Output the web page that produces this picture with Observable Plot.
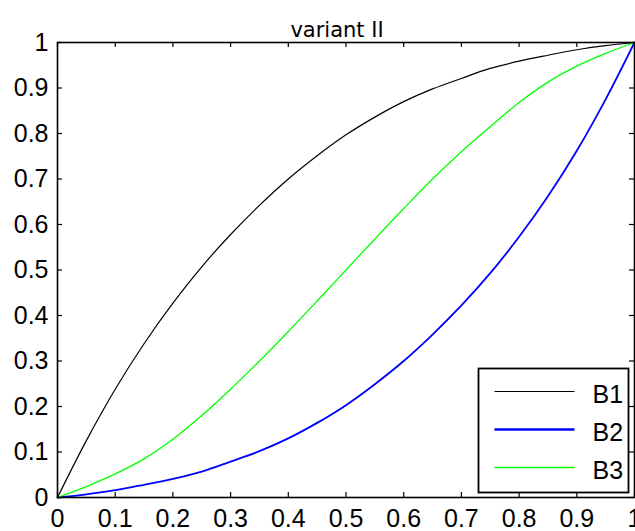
<!DOCTYPE html>
<html>
<head>
<meta charset="utf-8">
<script src="https://cdn.jsdelivr.net/npm/d3@7"></script>
<script src="https://cdn.jsdelivr.net/npm/@observablehq/plot@0.6"></script>
<style>
  html, body { margin: 0; padding: 0; background: #fff; }
  svg { display: block; }
</style>
</head>
<body>
<div id="chart"></div>
<script>
const titleText = "variant II";
const xs = [0, 0.05, 0.1, 0.15, 0.2, 0.25, 0.3, 0.35, 0.4, 0.45, 0.5, 0.55, 0.6, 0.65, 0.7, 0.75, 0.8, 0.85, 0.9, 0.95, 1];
const b1 = [0, 0.125, 0.238, 0.338, 0.427, 0.507, 0.578, 0.642, 0.700, 0.751, 0.797, 0.836, 0.870, 0.898, 0.921, 0.943, 0.959, 0.972, 0.984, 0.993, 1];
const b2 = [0, 0.007, 0.016, 0.028, 0.041, 0.057, 0.079, 0.102, 0.130, 0.164, 0.203, 0.249, 0.300, 0.358, 0.422, 0.493, 0.573, 0.662, 0.762, 0.875, 1];
const b3 = [0, 0.024, 0.052, 0.085, 0.128, 0.180, 0.238, 0.300, 0.365, 0.432, 0.500, 0.568, 0.635, 0.700, 0.760, 0.815, 0.868, 0.913, 0.948, 0.976, 1];
const seriesNames = ["B1", "B2", "B3"];
const seriesColors = ["#000000", "#0000ff", "#00ff00"];
const seriesWidths = [1.2, 1.8, 1.3];
const xTicks = [0, 0.1, 0.2, 0.3, 0.4, 0.5, 0.6, 0.7, 0.8, 0.9, 1];
const yTicks = [0, 0.1, 0.2, 0.3, 0.4, 0.5, 0.6, 0.7, 0.8, 0.9, 1];

const seriesValues = [b1, b2, b3];
const rows = [];
seriesNames.forEach((name, i) => {
  xs.forEach((x, j) => rows.push({series: name, x, y: seriesValues[i][j]}));
});

const W = 635, H = 531;
const mL = 57, mR = 1, mT = 42, mB = 34;
const fw = W - mL - mR, fh = H - mT - mB;
const tickLen = 5;
const font = "'Liberation Sans', Arial, Helvetica, sans-serif";
const tickFont = 25;

const plot = Plot.plot({
  width: W,
  height: H,
  marginLeft: mL,
  marginRight: mR,
  marginTop: mT,
  marginBottom: mB,
  style: {fontFamily: font, background: "#fff", color: "#000", overflow: "visible"},
  x: {domain: [0, 1], label: null},
  y: {domain: [0, 1], label: null},
  marks: [
    ...seriesNames.map((name, i) =>
      Plot.line(rows.filter(d => d.series === name), {
        x: "x", y: "y", stroke: seriesColors[i], strokeWidth: seriesWidths[i], curve: "catmull-rom"
      })
    ),
    Plot.tickX(xTicks, {x: d => d, insetTop: fh - tickLen, stroke: "#000", strokeWidth: 1.2}),
    Plot.tickX(xTicks, {x: d => d, insetBottom: fh - tickLen, stroke: "#000", strokeWidth: 1.2}),
    Plot.tickY(yTicks, {y: d => d, insetRight: fw - tickLen, stroke: "#000", strokeWidth: 1.2}),
    Plot.tickY(yTicks, {y: d => d, insetLeft: fw - tickLen, stroke: "#000", strokeWidth: 1.2}),
    Plot.frame({stroke: "#000", strokeWidth: 1.6}),
    Plot.axisX(xTicks, {tickSize: 0, tickPadding: 12, fontSize: tickFont, label: null, tickFormat: d => String(d)}),
    Plot.axisY(yTicks, {tickSize: 0, tickPadding: 9, fontSize: tickFont, label: null, tickFormat: d => String(d)}),
    Plot.text([titleText], {
      frameAnchor: "top", dy: -20, dx: -9, fontSize: 21,
      fontFamily: "'DejaVu Sans', Verdana, sans-serif", fill: "#000"
    })
  ]
});

// legend box in lower-right corner of the frame
const svg = d3.select(plot);
const fx = plot.scale("x"), fy = plot.scale("y");
const frameRight = fx.range[1], frameBottom = fy.range[0];
const boxW = 150, boxH = 124;
const bx = frameRight - 5.5 - boxW, by = frameBottom - 4.5 - boxH;
const g = svg.append("g");
g.append("rect").attr("x", bx).attr("y", by).attr("width", boxW).attr("height", boxH)
  .attr("fill", "#fff").attr("stroke", "#000").attr("stroke-width", 1.8);
seriesNames.forEach((name, i) => {
  const yy = by + 23 + i * 38;
  g.append("line").attr("x1", bx + 16).attr("x2", bx + 96).attr("y1", yy).attr("y2", yy)
    .attr("stroke", seriesColors[i]).attr("stroke-width", seriesWidths[i] + (i === 1 ? 0.6 : 0));
  g.append("text").attr("x", bx + 114).attr("y", yy + 3).attr("dy", "0.32em")
    .attr("text-anchor", "start")
    .attr("font-size", tickFont).attr("font-family", font).attr("fill", "#000").text(name);
});

document.getElementById("chart").appendChild(plot);
</script>
</body>
</html>
